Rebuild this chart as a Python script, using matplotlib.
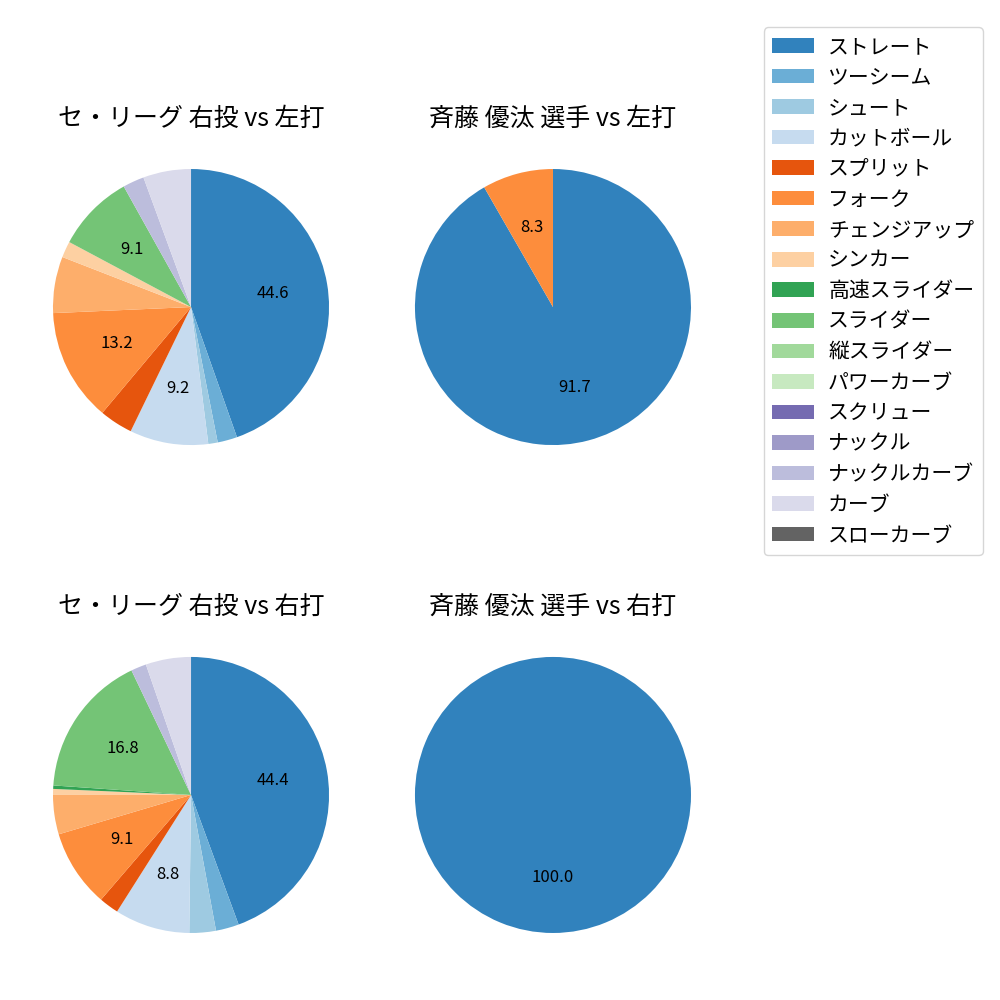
import matplotlib
matplotlib.use("Agg")
import matplotlib.pyplot as plt
from matplotlib.patches import Patch

plt.rcParams["font.family"] = ["Noto Sans CJK JP", "DejaVu Sans"]

# pitch types in legend order
PITCHES = [
    "ストレート", "ツーシーム", "シュート", "カットボール", "スプリット",
    "フォーク", "チェンジアップ", "シンカー", "高速スライダー", "スライダー",
    "縦スライダー", "パワーカーブ", "スクリュー", "ナックル", "ナックルカーブ",
    "カーブ", "スローカーブ",
]

# percentages per panel (same order as PITCHES, 0 = not thrown)
LEAGUE_VS_L = [44.6, 2.3, 1.1, 9.2, 3.9, 13.2, 6.6, 1.9, 0, 9.1,
               0, 0, 0, 0, 2.5, 5.6, 0]
PLAYER_VS_L = [91.7, 0, 0, 0, 0, 8.3, 0, 0, 0, 0,
               0, 0, 0, 0, 0, 0, 0]
LEAGUE_VS_R = [44.4, 2.7, 3.1, 8.8, 2.3, 9.1, 4.6, 0.7, 0.4, 16.8,
               0, 0, 0, 0, 1.8, 5.3, 0]
PLAYER_VS_R = [100.0, 0, 0, 0, 0, 0, 0, 0, 0, 0,
               0, 0, 0, 0, 0, 0, 0]

TITLES = [
    "セ・リーグ 右投 vs 左打", "斉藤 優汰 選手 vs 左打",
    "セ・リーグ 右投 vs 右打", "斉藤 優汰 選手 vs 右打",
]

cmap = plt.get_cmap("tab20c")
COLORS = [cmap(i) for i in range(len(PITCHES))]

fig, axes = plt.subplots(2, 2, figsize=(10, 10))
fig.subplots_adjust(left=0.0185, right=0.7255, top=0.8655, bottom=0.0325,
                    wspace=0.049, hspace=0.414)

for ax, vals, title in zip(axes.flat,
                           [LEAGUE_VS_L, PLAYER_VS_L, LEAGUE_VS_R, PLAYER_VS_R],
                           TITLES):
    idx = [i for i, v in enumerate(vals) if v > 0]
    ax.pie(
        [vals[i] for i in idx],
        colors=[COLORS[i] for i in idx],
        startangle=90, counterclock=False,
        autopct=lambda p: f"{p:.1f}" if p >= 8 else "",
        textprops={"fontsize": 12},
    )
    ax.set_title(title, fontsize=18)

handles = [Patch(facecolor=c) for c in COLORS]
fig.legend(handles, PITCHES, loc="upper right", bbox_to_anchor=(0.993, 0.983),
           fontsize=15, labelspacing=0.41, handletextpad=0.7)

fig.savefig("out.png", dpi=100)
